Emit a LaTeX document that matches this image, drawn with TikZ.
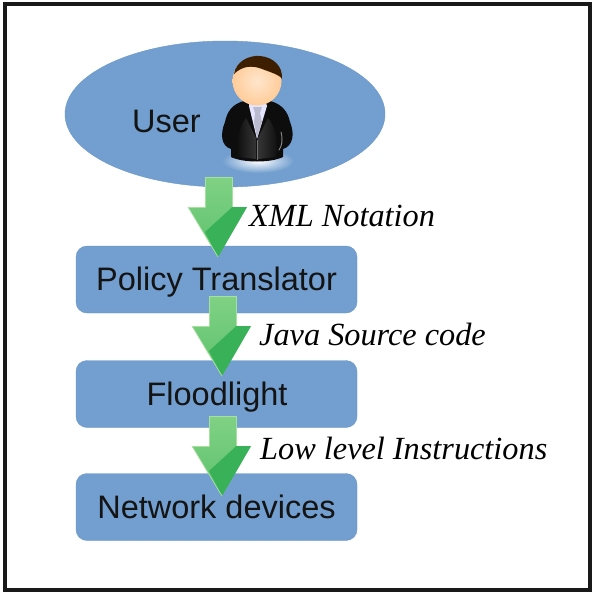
\documentclass[tikz,border=0pt]{standalone}
\usepackage{fontspec}
\setmainfont{Liberation Sans}
\newfontfamily\serifit{Liberation Serif}
\usetikzlibrary{shapes.geometric,calc}
\definecolor{boxblue}{HTML}{729FCF}
\definecolor{boxedge}{HTML}{6A97C8}
\definecolor{arrowdark}{HTML}{38B158}
\definecolor{arrowmid}{HTML}{5CC26C}
\definecolor{arrowlight}{HTML}{80D184}
\definecolor{arrowpale}{HTML}{A8E0A0}
\tikzset{
  x=1pt,y=-1pt,
  flowbox/.style={draw=boxedge,fill=boxblue,rounded corners=11pt,minimum width=281pt,minimum height=67pt,inner sep=0pt},
  flowtext/.style={font=\fontsize{32.5}{34}\selectfont,text=black!92,inner sep=0pt,anchor=base},
  userell/.style={draw=boxedge,fill=boxblue,ellipse,minimum width=320pt,minimum height=146pt,inner sep=0pt},
  lbl/.style={font=\serifit\itshape\fontsize{32.3}{34}\selectfont,anchor=base west,inner sep=0pt,text=black},
}
% block arrow: #1 = named top-centre coordinate
\newcommand{\blockarrow}[1]{%
  \begin{scope}[shift={(#1)}]
    \shade[top color=arrowlight,bottom color=arrowmid] (-13,0) -- (14,0) -- (14,30) -- (29,30) -- (0,80) -- (-30,30) -- (-13,30) -- cycle;
    \fill[arrowdark] (29,30) -- (0,80) -- (-13,55) -- (10,34) -- (14,30) -- cycle;
    \draw[arrowpale,line width=1pt,line join=round] (-30,30) -- (-13,30) -- (-13,0) -- (14,0) -- (14,30);
    \draw[arrowpale,line width=.7pt] (-30,30) -- (0,80);
  \end{scope}}
\begin{document}
\begin{tikzpicture}
\useasboundingbox (0,0) rectangle (599,597);
\fill[white] (0,0) rectangle (599,597);
\draw[black!90,line width=3.6pt] (5,4) rectangle (590,590);

\node[userell] (user) at (225,114) {};
\node[flowtext] (usertext) at (166.5,132) {User};

% person
\begin{scope}
  \shade[inner color=white,outer color=boxblue] (258,161) ellipse (36 and 12);
  % jacket
  \fill[black!95] (244,101) .. controls (232,104) and (227,112) .. (225,122)
     .. controls (220,134) and (221,146) .. (231,149) -- (231,157)
     .. controls (243,163) and (271,163) .. (283,157) -- (283,149)
     .. controls (293,146) and (295,134) .. (290,122)
     .. controls (288,112) and (282,104) .. (270,101) -- cycle;
  \shade[left color=black!95,right color=black!75,opacity=.8] (246,118) .. controls (238,128) and (236,145) .. (238,157) -- (256,159) -- (256,138) -- cycle;
  \shade[left color=black!75,right color=black!95,opacity=.8] (268,118) -- (258,138) -- (258,159) -- (276,157) .. controls (279,142) and (276,128) .. (268,118) -- cycle;
  \draw[black!55,line width=.6pt] (257,140) -- (257,160);
  \draw[black!45,line width=.9pt,line cap=round] (281,132) .. controls (283,140) and (282,146) .. (279,150);
  % shirt and tie
  \fill[white!90!blue] (249,103) -- (266,103) -- (267,106) -- (257,139) -- (249,106) -- cycle;
  \fill[blue!18!gray!45!white] (253,107) -- (262,107) -- (260,113) -- (262,122) -- (257,138) -- (254,122) -- (255,113) -- cycle;
  % head
  \shade[inner color=white!80!orange,outer color=orange!40!white] (257,81) ellipse (24.5 and 24.5);
  % hair
  \fill[black!60!orange!60!black] (234,74) .. controls (236,62) and (248,55) .. (260,56)
     .. controls (273,57) and (283,66) .. (282,79) .. controls (280,75) and (270,72) .. (262,69)
     .. controls (252,65) and (242,66) .. (234,74) -- cycle;
\end{scope}

% boxes
\node[flowbox] (policy) at (216.5,279.5) {};
\node[flowbox] (flood) at (216.5,394) {};
\node[flowbox] (net) at (216.5,507) {};

% arrows
\coordinate (a1) at (218,177);
\coordinate (a2) at (222,296);
\coordinate (a3) at (222,416);
\blockarrow{a1}
\blockarrow{a2}
\blockarrow{a3}

\node[flowtext] (policyt) at (216.5,290) {Policy Translator};
\node[flowtext] (floodt) at (217,405) {Floodlight};
\node[flowtext] (nett) at (216.5,518) {Network devices};

\node[lbl] (l1) at (249,226) {XML Notation};
\node[lbl] (l2) at (259,345) {Java Source code};
\node[lbl] (l3) at (260,459) {Low level Instructions};
\end{tikzpicture}
\end{document}
